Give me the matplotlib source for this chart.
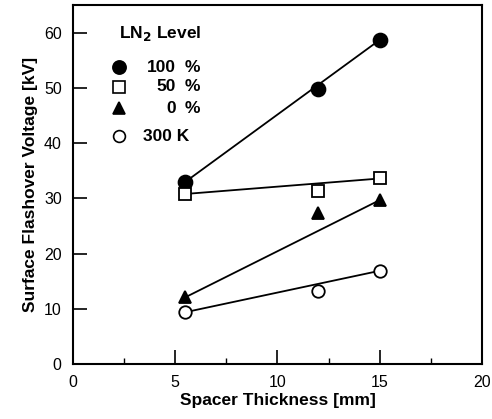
import numpy as np
import matplotlib.pyplot as plt

plt.rcParams['font.family'] = ['Liberation Sans', 'DejaVu Sans']

thickness = [5.5, 12, 15]
v_100 = [33.0, 49.8, 58.7]
v_50 = [30.8, 31.3, 33.6]
v_0 = [12.1, 27.3, 29.7]
v_300k = [9.4, 13.2, 16.9]

series = [
    (v_100, 'o', 'black', 10, '100'),
    (v_50, 's', 'white', 8.5, '50'),
    (v_0, '^', 'black', 9, '0'),
    (v_300k, 'o', 'white', 9, None),
]

fig = plt.figure(figsize=(4.92, 4.19), dpi=100)
ax = fig.add_axes([0.148, 0.131, 0.832, 0.857])

for vals, mk, fc, ms, lab in series:
    # straight line drawn from first to last point
    ax.plot([thickness[0], thickness[-1]], [vals[0], vals[-1]], color='black', lw=1.3, zorder=2)
    ax.plot(thickness, vals, linestyle='none', marker=mk, markerfacecolor=fc,
            markeredgecolor='black', markeredgewidth=1.3, markersize=ms, zorder=3)

ax.set_xlim(0, 20)
ax.set_ylim(0, 65)
ax.set_xticks([0, 5, 10, 15, 20])
ax.set_xticks([2.5, 7.5, 12.5, 17.5], minor=True)
ax.set_yticks([0, 10, 20, 30, 40, 50, 60])
ax.tick_params(direction='in', length=10, width=1.2, labelsize=11.5, pad=8,
               top=False, right=False)
ax.tick_params(which='minor', direction='in', length=4, width=1.0)
for s in ax.spines.values():
    s.set_linewidth(1.5)

ax.set_xlabel('Spacer Thickness [mm]', fontsize=12.5, fontweight='bold', labelpad=2)
ax.set_ylabel('Surface Flashover Voltage [kV]', fontsize=12.5, fontweight='bold', labelpad=4)

# legend drawn by hand
ax.text(0.112, 0.922, 'LN$_\\mathbf{2}$ Level', transform=ax.transAxes, fontsize=12.5,
        fontweight='bold', va='center', ha='left')
rows = [0.827, 0.772, 0.713, 0.635]
for (vals, mk, fc, ms, lab), yy in zip(series, rows):
    ax.plot([0.112], [yy], transform=ax.transAxes, linestyle='none', marker=mk,
            markerfacecolor=fc, markeredgecolor='black', markeredgewidth=1.2,
            markersize=ms - 0.5, clip_on=False)
    if lab is not None:
        ax.text(0.252, yy, lab, transform=ax.transAxes, fontsize=12.5, fontweight='bold',
                va='center', ha='right')
        ax.text(0.272, yy, '%', transform=ax.transAxes, fontsize=12.5, fontweight='bold',
                va='center', ha='left')
    else:
        ax.text(0.171, yy, '300 K', transform=ax.transAxes, fontsize=12.5, fontweight='bold',
                va='center', ha='left')

fig.savefig('out.png', dpi=100)
